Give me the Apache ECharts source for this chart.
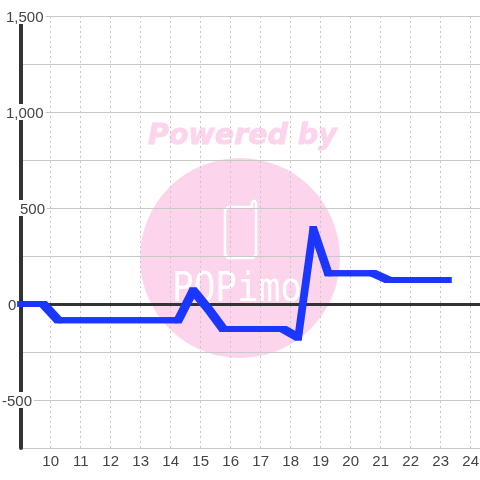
<!DOCTYPE html>
<html><head><meta charset="utf-8">
<style>html,body{margin:0;padding:0;background:#fff}#c{width:480px;height:480px}</style>
<script src="https://cdn.jsdelivr.net/npm/echarts@6/dist/echarts.min.js"></script>
</head><body><div id="c"></div>
<script>
const hours = [9,9.75,10.25,14.25,14.75,15.25,15.75,17.75,18.25,18.75,19.25,20.75,21.25,23.25];
const values = [0,0,-85,-85,70,-25,-130,-130,-175,390,160,160,125,125];
const xTicks = [10,11,12,13,14,15,16,17,18,19,20,21,22,23,24];
const yLabels = {'1500':'1,500','1000':'1,000','500':'500','0':'0','-500':'-500'};
const yPad = {'1500':4,'1000':4,'500':18,'0':6,'-500':0};
const chart = echarts.init(document.getElementById('c'),null,{renderer:'canvas'});
const font='"Liberation Sans", Arial, sans-serif';
const pink='#fcd5ec', blue='#1a36ff';
const rich={};
Object.keys(yPad).forEach(k=>{rich['k'+(+k+500)]={fontFamily:font,fontSize:15,color:'#444',backgroundColor:'#fff',height:13,lineHeight:13,padding:[3,2,0,yPad[k]]};});
const segments=hours.slice(1).map((h,i)=>[hours[i],values[i],h,values[i+1]]);
const penX=3.5, penY=3;
chart.setOption({
  animation:false,
  backgroundColor:'#fff',
  grid:{left:20.7,right:0,top:16,bottom:32,containLabel:false,outerBoundsMode:'none'},
  graphic:{elements:[
    {type:'circle',z:-10,silent:true,shape:{cx:240,cy:258,r:100},style:{fill:pink}},
    {type:'text',z:-9,silent:true,x:148,y:122,style:{text:'Powered by',fill:pink,stroke:pink,lineWidth:1,font:'italic bold 28.5px "DejaVu Sans"'}},
    {type:'polygon',z:-9,silent:true,shape:{points:[[228,207],[252,207],[252,203],[253,201],[255,201],[256,203],[256,255],[253,258],[228,258],[225,255],[225,210]]},style:{fill:'none',stroke:'#fff',lineWidth:2.5,lineJoin:'round'}},
    {type:'text',z:-9,silent:true,x:172,y:270,scaleY:1.12,style:{text:'PQPimo',fill:'#fff',font:'normal 36px "DejaVu Sans Mono"'}}
  ]},
  xAxis:{type:'value',min:9,max:24.31,interval:1,
    axisLine:{show:false},axisTick:{show:false},
    axisLabel:{customValues:xTicks,color:'#444',fontFamily:font,fontSize:15,margin:6,hideOverlap:false,formatter:v=>String(v)},
    splitLine:{show:true,showMaxLine:false,showMinLine:false,lineStyle:{color:'#c8c8c8',type:[2,3],width:1}}},
  yAxis:{type:'value',min:-750,max:1500,interval:250,
    axisLine:{show:true,onZero:false,lineStyle:{color:'#333',width:4}},axisTick:{show:false},
    axisLabel:{inside:true,margin:-18.7,align:'left',showMinLabel:true,showMaxLabel:true,rich:rich,
      formatter:v=>{const k=String(v);if(!(k in yLabels))return '';return '{k'+(v+500)+'|'+yLabels[k]+'}';}},
    splitLine:{show:true,lineStyle:{color:'#c8c8c8',width:1}}},
  series:[
    {type:'line',silent:true,data:[],markLine:{silent:true,symbol:'none',label:{show:false},lineStyle:{color:'#333',width:3,type:'solid'},data:[{yAxis:0}]}},
    {type:'line',silent:true,z:5,data:hours.map((h,i)=>[h,values[i]]),showSymbol:false,clip:false,
     lineStyle:{color:blue,width:6,cap:'square',join:'bevel'}},
    {type:'custom',silent:true,z:6,clip:false,encode:{x:[0,2],y:[1,3]},data:segments,
     renderItem:(p,api)=>{
       const [x0,y0]=api.coord([api.value(0),api.value(1)]);
       const [x1,y1]=api.coord([api.value(2),api.value(3)]);
       const a=penX,b=penY;
       const pts=y1>=y0
        ?[[x0-a,y0-b],[x0+a,y0-b],[x1+a,y1-b],[x1+a,y1+b],[x1-a,y1+b],[x0-a,y0+b]]
        :[[x0-a,y0-b],[x1-a,y1-b],[x1+a,y1-b],[x1+a,y1+b],[x0+a,y0+b],[x0-a,y0+b]];
       return {type:'polygon',shape:{points:pts},style:{fill:blue}};
     }}
  ]
});
</script></body></html>
